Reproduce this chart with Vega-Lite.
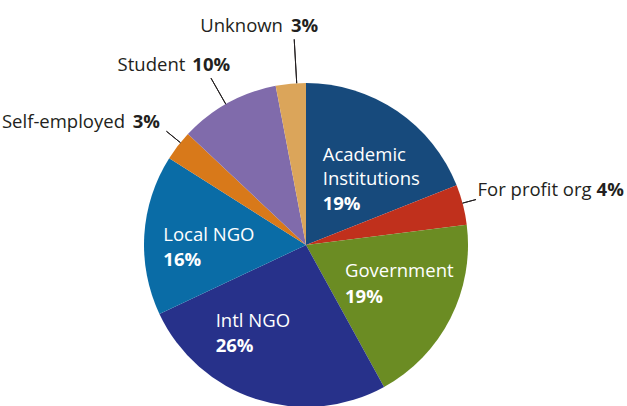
{
  "$schema": "https://vega.github.io/schema/vega-lite/v6.json",
  "width": 627,
  "height": 406,
  "autosize": "none",
  "padding": 0,
  "background": "white",
  "view": {"stroke": null},
  "config": {"text": {"font": "Open Sans", "fontSize": 18.5, "baseline": "alphabetic", "lineHeight": 24.5, "lineBreak": "\n"}},
  "data": {"values": [
    {"cat": "Academic Institutions", "name": "Academic\nInstitutions", "plabel": "19%", "pct": 19},
    {"cat": "For profit org", "name": "For profit org", "plabel": "4%", "pct": 4},
    {"cat": "Government", "name": "Government", "plabel": "19%", "pct": 19},
    {"cat": "Intl NGO", "name": "Intl NGO", "plabel": "26%", "pct": 26},
    {"cat": "Local NGO", "name": "Local NGO", "plabel": "16%", "pct": 16},
    {"cat": "Self-employed", "name": "Self-employed", "plabel": "3%", "pct": 3},
    {"cat": "Student", "name": "Student", "plabel": "10%", "pct": 10},
    {"cat": "Unknown", "name": "Unknown", "plabel": "3%", "pct": 3}
  ]},
  "encoding": {
    "theta": {"field": "pct", "type": "quantitative", "stack": true},
    "order": {"field": "cat", "type": "nominal", "sort": "ascending"},
    "detail": {"field": "cat", "type": "nominal"}
  },
  "layer": [
    {
      "mark": {"type": "arc", "x": 306, "y": 245, "outerRadius": 162, "innerRadius": 0},
      "encoding": {
        "color": {"field": "cat", "type": "nominal", "legend": null,
          "scale": {"domain": ["Academic Institutions", "For profit org", "Government", "Intl NGO", "Local NGO", "Self-employed", "Student", "Unknown"],
                    "range": ["#174a7c", "#c0301c", "#6b8c23", "#27318a", "#0a6ca6", "#d8791a", "#806bab", "#dba55a"]}}
      }
    },
    {
      "mark": {"type": "arc", "x": 306, "y": 245, "innerRadius": 162, "outerRadius": 206, "padAngle": 3, "thetaOffset": 0.037, "theta2Offset": 0.037, "fill": "transparent", "stroke": "#231f20", "strokeWidth": 1},
      "encoding": {"strokeOpacity": {"condition": {"test": "datum.cat === 'Unknown'", "value": 1}, "value": 0}}
    },
    {
      "mark": {"type": "arc", "x": 306, "y": 245, "innerRadius": 162, "outerRadius": 192, "padAngle": 3, "thetaOffset": -0.015, "theta2Offset": -0.015, "fill": "transparent", "stroke": "#231f20", "strokeWidth": 1},
      "encoding": {"strokeOpacity": {"condition": {"test": "datum.cat === 'Student'", "value": 1}, "value": 0}}
    },
    {
      "mark": {"type": "arc", "x": 306, "y": 245, "innerRadius": 162, "outerRadius": 180, "padAngle": 3, "thetaOffset": 0.024, "theta2Offset": 0.024, "fill": "transparent", "stroke": "#231f20", "strokeWidth": 1},
      "encoding": {"strokeOpacity": {"condition": {"test": "datum.cat === 'Self-employed'", "value": 1}, "value": 0}}
    },
    {
      "mark": {"type": "arc", "x": 306, "y": 245, "innerRadius": 162, "outerRadius": 176, "padAngle": 3, "thetaOffset": -0.01, "theta2Offset": -0.01, "fill": "transparent", "stroke": "#231f20", "strokeWidth": 1},
      "encoding": {"strokeOpacity": {"condition": {"test": "datum.cat === 'For profit org'", "value": 1}, "value": 0}}
    },
    {
      "mark": {"type": "text", "x": 306, "y": 245, "radius": 100, "align": "left", "dx": -39.5, "dy": -1.6, "fill": "white"},
      "encoding": {"text": {"field": "name", "type": "nominal", "condition": {"test": "datum.cat !== 'Academic Institutions'", "value": ""}}}
    },
    {
      "mark": {"type": "text", "x": 306, "y": 245, "radius": 100, "align": "left", "dx": -39.5, "dy": 47.7, "fill": "white", "fontWeight": "bold"},
      "encoding": {"text": {"field": "plabel", "type": "nominal", "condition": {"test": "datum.cat !== 'Academic Institutions'", "value": ""}}}
    },
    {
      "mark": {"type": "text", "x": 306, "y": 245, "radius": 100, "align": "left", "dx": -50.1, "dy": -13.1, "fill": "white"},
      "encoding": {"text": {"field": "name", "type": "nominal", "condition": {"test": "datum.cat !== 'Government'", "value": ""}}}
    },
    {
      "mark": {"type": "text", "x": 306, "y": 245, "radius": 100, "align": "left", "dx": -50.1, "dy": 12.9, "fill": "white", "fontWeight": "bold"},
      "encoding": {"text": {"field": "plabel", "type": "nominal", "condition": {"test": "datum.cat !== 'Government'", "value": ""}}}
    },
    {
      "mark": {"type": "text", "x": 306, "y": 245, "radius": 100, "align": "left", "dx": -59.4, "dy": -13.4, "fill": "white"},
      "encoding": {"text": {"field": "name", "type": "nominal", "condition": {"test": "datum.cat !== 'Intl NGO'", "value": ""}}}
    },
    {
      "mark": {"type": "text", "x": 306, "y": 245, "radius": 100, "align": "left", "dx": -59.4, "dy": 11.6, "fill": "white", "fontWeight": "bold"},
      "encoding": {"text": {"field": "plabel", "type": "nominal", "condition": {"test": "datum.cat !== 'Intl NGO'", "value": ""}}}
    },
    {
      "mark": {"type": "text", "x": 306, "y": 245, "radius": 100, "align": "left", "dx": -42.9, "dy": 2, "fill": "white"},
      "encoding": {"text": {"field": "name", "type": "nominal", "condition": {"test": "datum.cat !== 'Local NGO'", "value": ""}}}
    },
    {
      "mark": {"type": "text", "x": 306, "y": 245, "radius": 100, "align": "left", "dx": -42.9, "dy": 27.3, "fill": "white", "fontWeight": "bold"},
      "encoding": {"text": {"field": "plabel", "type": "nominal", "condition": {"test": "datum.cat !== 'Local NGO'", "value": ""}}}
    },
    {
      "mark": {"type": "text", "x": 306, "y": 245, "radius": 200, "align": "right", "dx": -4.2, "dy": -14.2, "fill": "#231f20"},
      "encoding": {"text": {"field": "name", "type": "nominal", "condition": {"test": "datum.cat !== 'Unknown'", "value": ""}}}
    },
    {
      "mark": {"type": "text", "x": 306, "y": 245, "radius": 200, "align": "left", "dx": 3.8, "dy": -14.2, "fill": "#231f20", "fontWeight": "bold"},
      "encoding": {"text": {"field": "plabel", "type": "nominal", "condition": {"test": "datum.cat !== 'Unknown'", "value": ""}}}
    },
    {
      "mark": {"type": "text", "x": 306, "y": 245, "radius": 200, "align": "right", "dx": -24.3, "dy": 1.2, "fill": "#231f20"},
      "encoding": {"text": {"field": "name", "type": "nominal", "condition": {"test": "datum.cat !== 'Student'", "value": ""}}}
    },
    {
      "mark": {"type": "text", "x": 306, "y": 245, "radius": 200, "align": "left", "dx": -17.3, "dy": 1.2, "fill": "#231f20", "fontWeight": "bold"},
      "encoding": {"text": {"field": "plabel", "type": "nominal", "condition": {"test": "datum.cat !== 'Student'", "value": ""}}}
    },
    {
      "mark": {"type": "text", "x": 306, "y": 245, "radius": 200, "align": "right", "dx": -23, "dy": 5.9, "fill": "#231f20"},
      "encoding": {"text": {"field": "name", "type": "nominal", "condition": {"test": "datum.cat !== 'Self-employed'", "value": ""}}}
    },
    {
      "mark": {"type": "text", "x": 306, "y": 245, "radius": 200, "align": "left", "dx": -15.3, "dy": 5.9, "fill": "#231f20", "fontWeight": "bold"},
      "encoding": {"text": {"field": "plabel", "type": "nominal", "condition": {"test": "datum.cat !== 'Self-employed'", "value": ""}}}
    },
    {
      "mark": {"type": "text", "x": 306, "y": 245, "radius": 200, "align": "right", "dx": 91.9, "dy": 0.7, "fill": "#231f20"},
      "encoding": {"text": {"field": "name", "type": "nominal", "condition": {"test": "datum.cat !== 'For profit org'", "value": ""}}}
    },
    {
      "mark": {"type": "text", "x": 306, "y": 245, "radius": 200, "align": "left", "dx": 96.9, "dy": 0.7, "fill": "#231f20", "fontWeight": "bold"},
      "encoding": {"text": {"field": "plabel", "type": "nominal", "condition": {"test": "datum.cat !== 'For profit org'", "value": ""}}}
    }
  ]
}
